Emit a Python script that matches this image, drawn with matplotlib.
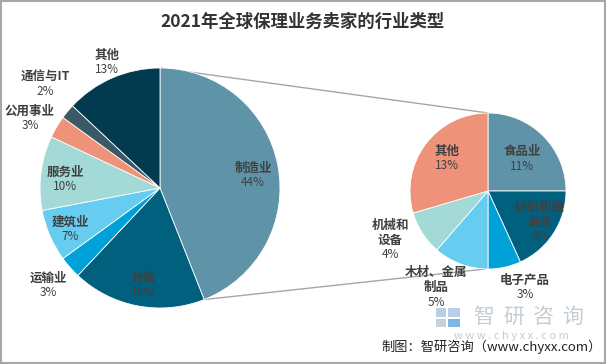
import matplotlib
matplotlib.use("Agg")
import matplotlib.pyplot as plt
import matplotlib.patches as patches
import numpy as np

plt.rcParams['font.family'] = ['Noto Sans CJK SC', 'DejaVu Sans']

# main pie: industry share of sellers
main_labels = ['制造业', '分销', '运输业', '建筑业', '服务业', '公用事业', '通信与IT', '其他']
main_values = [44, 18, 3, 7, 10, 3, 2, 13]
main_colors = ['#5f93a8', '#02607f', '#00a0d8', '#66ccf0', '#a3d9d6', '#ee927a', '#3b5866', '#023a50']

# secondary pie: breakdown of manufacturing
sub_labels = ['食品业', '纺织和服\n装业', '电子产品', '木材、金属\n制品', '机械和\n设备', '其他']
sub_values = [11, 8, 3, 5, 4, 13]
sub_colors = ['#5f93a8', '#02607f', '#00a0d8', '#66ccf0', '#a3d9d6', '#ee927a']

W, H = 606, 364
fig = plt.figure(figsize=(W / 100, H / 100), dpi=100)
ax = fig.add_axes([0, 0, 1, 1])

main_c = (160, H - 188)
main_r = 120
sub_c = (488, H - 191)
sub_r = 78

ax.pie(main_values, colors=main_colors, startangle=90, counterclock=False,
       center=main_c, radius=main_r, frame=True,
       wedgeprops=dict(edgecolor='white', linewidth=0.6))
ax.pie(sub_values, colors=sub_colors, startangle=90, counterclock=False,
       center=sub_c, radius=sub_r, frame=True,
       wedgeprops=dict(edgecolor='white', linewidth=0.6))
ax.set_xlim(0, W)
ax.set_ylim(0, H)
ax.set_aspect('equal')
ax.axis('off')

# connector lines between the manufacturing wedge and the secondary pie
end_ang = np.deg2rad(90 - 360 * main_values[0] / sum(main_values))
p_top = (main_c[0], main_c[1] + main_r)
p_bot = (main_c[0] + main_r * np.cos(end_ang), main_c[1] + main_r * np.sin(end_ang))
ax.plot([p_top[0], sub_c[0]], [p_top[1], sub_c[1] + sub_r], color='#a6a6a6', lw=1, zorder=0)
ax.plot([p_bot[0], sub_c[0] - 3], [p_bot[1], sub_c[1] - sub_r], color='#a6a6a6', lw=1, zorder=0)

# label positions (pixel coords from top-left)
main_pos = [(253, 168), (143, 278), (48, 278), (70, 222), (65, 172), (30, 111), (45, 77), (107, 55)]
sub_pos = [(522, 152), (540, 215), (525, 280), (436, 280), (390, 233), (447, 151)]

txt = '#404040'

def put(name, val, x, y):
    n_lines = name.count('\n') + 1
    ax.text(x, H - y, name, ha='center', va='center', fontsize=9, fontweight='bold',
            color=txt, linespacing=1.15)
    ax.text(x, H - y - 7.5 * (n_lines - 1) - 14.5, f'{val}%', ha='center', va='center',
            fontsize=8.5, color=txt)

for name, val, (x, y) in zip(main_labels, main_values, main_pos):
    put(name, val, x, y)
for name, val, (x, y) in zip(sub_labels, sub_values, sub_pos):
    put(name, val, x, y)

# title
fig.text(0.5, 1 - 22 / H, '2021年全球保理业务卖家的行业类型', ha='center', va='center',
         fontsize=12.5, fontweight='bold', color='#333333')

# watermark
wm = '#c5ccd4'
for i, ch in enumerate('智研咨询'):
    ax.text(484 + i * 29.5, H - 317, ch, ha='center', va='center', fontsize=15,
            color=wm, zorder=0)
ax.add_patch(patches.Rectangle((436, H - 317), 10, 9, color='#b9cfe6', lw=0, zorder=0))
ax.add_patch(patches.Rectangle((448, H - 317), 12, 9, color='#b9cfe6', lw=0, zorder=0))
ax.add_patch(patches.Rectangle((436, H - 327), 10, 8, color='#c9d0d8', lw=0, zorder=0))
ax.add_patch(patches.Rectangle((448, H - 327), 12, 8, color='#7fb6e6', lw=0, zorder=0))
ax.text(511, H - 336, 'w w w . c h y x x . c o m', ha='center', va='center', fontsize=8,
        color=wm, zorder=0)

# source
fig.text(1 - 4 / W, 1 - 347 / H, '制图：智研咨询（www.chyxx.com）', ha='right', va='center',
         fontsize=9.5, color='#222222')

fig.patches.append(patches.Rectangle((0.001, 0.002), 0.997, 0.995, transform=fig.transFigure,
                                     fill=False, ec='#a6a6a6', lw=1.5))

fig.savefig('out.png', dpi=100)
